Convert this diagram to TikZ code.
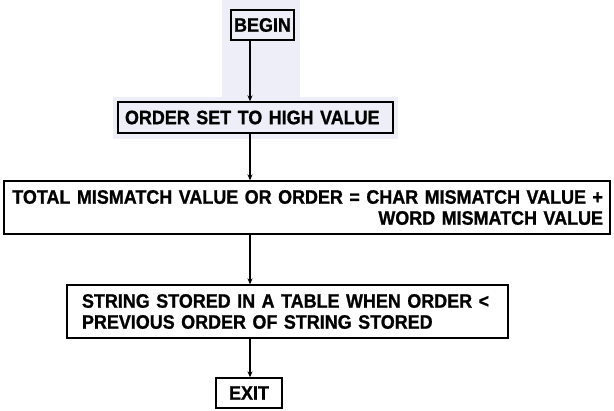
\documentclass[tikz,border=0pt]{standalone}
\usepackage{fontspec}
\setmainfont{Liberation Sans}
\newfontfamily\flowfont{Liberation Sans Bold}[FakeStretch=0.92, FakeBold=1]
\usetikzlibrary{arrows.meta}
\definecolor{haze}{RGB}{238,238,248}
\tikzset{
  box/.style={draw=black, line width=1.3pt, inner ysep=0pt, font=\flowfont\fontsize{19.5}{21}\selectfont},
  flow/.style={draw=black, line width=1.3pt, -{Stealth[length=6pt,width=5pt]}},
}
\begin{document}
\begin{tikzpicture}[x=1pt,y=-1pt]
\useasboundingbox (0,0) rectangle (614,411);
\fill[haze] (222,0) rectangle (300,97);
\fill[haze] (113,97) rectangle (398,139);
\node[box, minimum width=63, minimum height=30, inner xsep=0pt] (begin) at (262.5,25) {BEGIN};
\node[box, minimum height=31, inner xsep=7pt, text width=261pt, align=left] (order) at (255.5,117.5) {ORDER SET TO HIGH VALUE};
\node[box, minimum height=53, inner xsep=7pt, text width=592pt, align=right] (total) at (307,207.5) {TOTAL MISMATCH VALUE OR ORDER = CHAR MISMATCH VALUE +\\WORD MISMATCH VALUE};
\node[box, minimum height=53, inner xsep=15pt, text width=411pt, align=left] (string) at (287.5,311.5) {STRING STORED IN A TABLE WHEN ORDER <\\PREVIOUS ORDER OF STRING STORED};
\node[box, minimum width=66, minimum height=30, inner xsep=0pt] (exit) at (249,393) {EXIT};
\draw[flow] (begin.south -| 250,0) -- (order.north -| 250,0);
\draw[flow] (order.south -| 250,0) -- (total.north -| 250,0);
\draw[flow] (total.south -| 250,0) -- (string.north -| 250,0);
\draw[flow] (string.south -| 250,0) -- (exit.north -| 250,0);
\end{tikzpicture}
\end{document}
